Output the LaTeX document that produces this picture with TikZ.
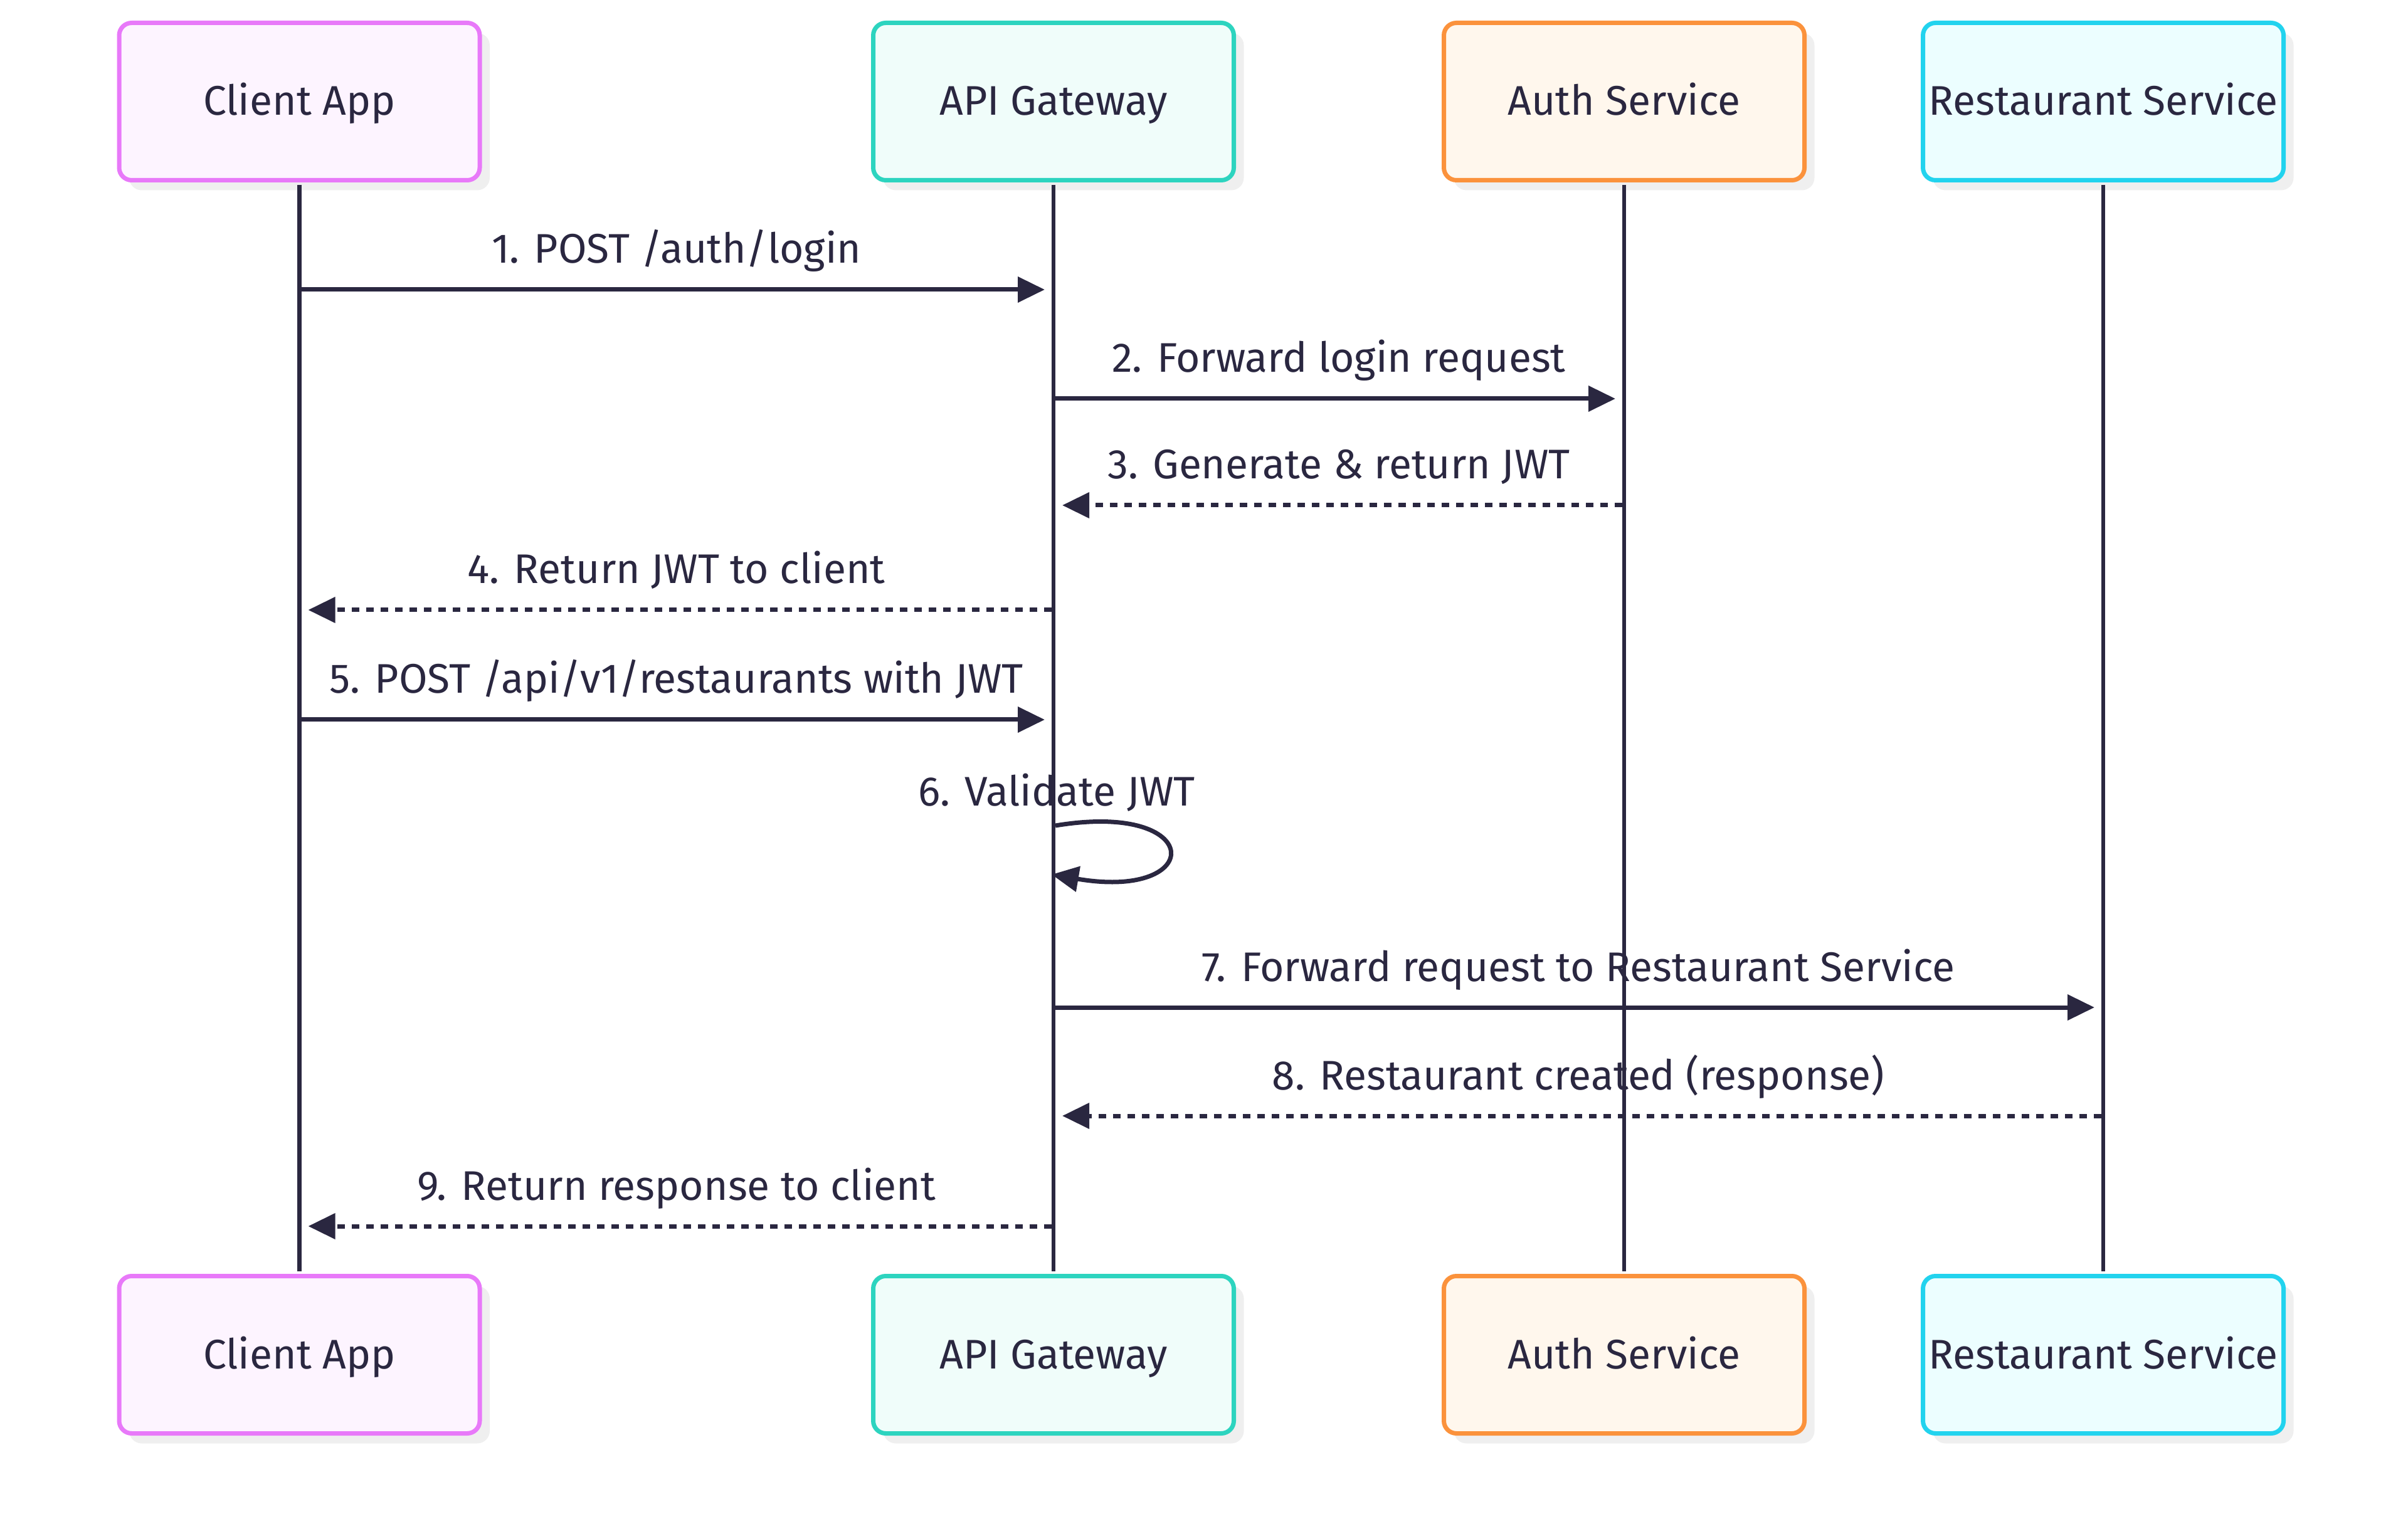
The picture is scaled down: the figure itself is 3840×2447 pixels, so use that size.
\documentclass[tikz,border=0pt]{standalone}
\usepackage{fontspec}
\setmainfont{Fira Sans}
\usetikzlibrary{arrows.meta}
\definecolor{ink}{HTML}{2A2740}
\definecolor{shadowc}{HTML}{EFEFEF}
\definecolor{caS}{HTML}{E879F9}\definecolor{caF}{HTML}{FDF4FF}
\definecolor{agS}{HTML}{2DD4BF}\definecolor{agF}{HTML}{F0FDFA}
\definecolor{asS}{HTML}{FB923C}\definecolor{asF}{HTML}{FFF7ED}
\definecolor{rsS}{HTML}{22D3EE}\definecolor{rsF}{HTML}{ECFEFF}
\tikzset{
  actor/.style={draw=#1S, fill=#1F, line width=1.75pt, rounded corners=5pt,
    minimum width=143.75pt, minimum height=62.75pt, inner sep=0pt,
    text height=11pt, text depth=0pt,
    text=ink, font=\fontsize{16.5pt}{19pt}\selectfont,
    preaction={fill=shadowc, draw=none, transform canvas={shift={(4pt,-4pt)}}}},
  lifeline/.style={draw=ink, line width=1.6pt, shorten <=0.9pt, shorten >=0.9pt},
  msg/.style={draw=ink, line width=1.75pt, -{Triangle[length=10.75pt,width=10pt]}},
  reply/.style={msg, dash pattern=on 3pt off 2.75pt},
  lbl/.style={text=ink, font=\fontsize{16.5pt}{19pt}\selectfont, anchor=base, inner sep=0pt}
}
\begin{document}
\begin{tikzpicture}[x=0.25pt, y=-0.25pt]
\useasboundingbox (0,0) rectangle (3840,2447);
% actors
\node[actor=ca] (ca) at (477.5,162) {Client App};
\node[actor=ag] (ag) at (1680,162) {API Gateway};
\node[actor=as] (as) at (2590,162) {Auth Service};
\node[actor=rs] (rs) at (3354,162) {Restaurant Service};
\node[actor=ca] (cab) at (477.5,2161) {Client App};
\node[actor=ag] (agb) at (1680,2161) {API Gateway};
\node[actor=as] (asb) at (2590,2161) {Auth Service};
\node[actor=rs] (rsb) at (3354,2161) {Restaurant Service};
% lifelines
\draw[lifeline] (ca.south) -- (cab.north);
\draw[lifeline] (ag.south) -- (agb.north);
\draw[lifeline] (as.south) -- (asb.north);
\draw[lifeline] (rs.south) -- (rsb.north);
% message 1
\coordinate (m1a) at (480,462); \coordinate (m1b) at (1666,462);
\draw[msg] (m1a) -- (m1b);
\node[lbl] (l1) at (1078.75,420) {1. POST /auth/login};
% message 2
\coordinate (m2a) at (1683,636); \coordinate (m2b) at (2576,636);
\draw[msg] (m2a) -- (m2b);
\node[lbl] (l2) at (2135,594) {2. Forward login request};
% message 3
\coordinate (m3a) at (2587,806); \coordinate (m3b) at (1694,806);
\draw[reply] (m3a) -- (m3b);
\node[lbl] (l3) at (2135,764) {3. Generate \& return JWT};
% message 4
\coordinate (m4a) at (1677,973); \coordinate (m4b) at (491.5,973);
\draw[reply] (m4a) -- (m4b);
\node[lbl] (l4) at (1078.75,931) {4. Return JWT to client};
% message 5
\coordinate (m5a) at (480,1148); \coordinate (m5b) at (1666,1148);
\draw[msg] (m5a) -- (m5b);
\node[lbl] (l5) at (1078.75,1106) {5. POST /api/v1/restaurants with JWT};
% message 6 (self)
\coordinate (m6a) at (1683,1317); \coordinate (m6b) at (1677,1395);
\draw[msg] (m6a) .. controls (1923,1277) and (1923,1437) .. (m6b);
\node[lbl] (l6) at (1685,1285) {6. Validate JWT};
% message 7
\coordinate (m7a) at (1683,1607); \coordinate (m7b) at (3340,1607);
\draw[msg] (m7a) -- (m7b);
\node[lbl] (l7) at (2517,1565) {7. Forward request to Restaurant Service};
% message 8
\coordinate (m8a) at (3351,1780); \coordinate (m8b) at (1694,1780);
\draw[reply] (m8a) -- (m8b);
\node[lbl] (l8) at (2517,1738) {8. Restaurant created (response)};
% message 9
\coordinate (m9a) at (1677,1956); \coordinate (m9b) at (491.5,1956);
\draw[reply] (m9a) -- (m9b);
\node[lbl] (l9) at (1078.75,1914) {9. Return response to client};
\end{tikzpicture}
\end{document}
